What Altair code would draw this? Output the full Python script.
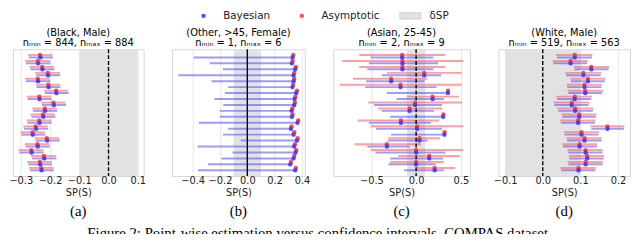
import altair as alt
import pandas as pd

rows = list(range(20))

# ---------------- panel (a) (Black, Male)
a_b_lo = [-0.273, -0.282, -0.267, -0.248, -0.282, -0.246, -0.218, -0.277, -0.228, -0.258,
          -0.264, -0.277, -0.289, -0.298, -0.250, -0.284, -0.305, -0.262, -0.275, -0.269]
a_b_pt = [-0.233, -0.241, -0.226, -0.207, -0.241, -0.205, -0.178, -0.236, -0.187, -0.217,
          -0.223, -0.236, -0.248, -0.259, -0.210, -0.242, -0.263, -0.220, -0.234, -0.229]
a_b_hi = [-0.190, -0.199, -0.185, -0.165, -0.200, -0.164, -0.136, -0.195, -0.145, -0.176,
          -0.182, -0.195, -0.206, -0.216, -0.167, -0.201, -0.222, -0.178, -0.193, -0.187]
a_r_lo = [-0.276, -0.285, -0.270, -0.251, -0.285, -0.249, -0.221, -0.280, -0.231, -0.261,
          -0.267, -0.280, -0.292, -0.301, -0.253, -0.287, -0.308, -0.265, -0.278, -0.272]
a_r_pt = [-0.234, -0.242, -0.227, -0.208, -0.242, -0.206, -0.179, -0.237, -0.188, -0.218,
          -0.224, -0.237, -0.249, -0.260, -0.211, -0.243, -0.264, -0.221, -0.235, -0.230]
a_r_hi = [-0.192, -0.200, -0.186, -0.166, -0.201, -0.165, -0.138, -0.196, -0.147, -0.177,
          -0.183, -0.196, -0.208, -0.218, -0.169, -0.202, -0.223, -0.180, -0.194, -0.188]

# ---------------- panel (b) (Other, >45, Female)
b_b_lo = [-0.392, -0.274, -0.179, -0.505, -0.262, -0.142, -0.164, -0.240, -0.176, -0.201,
          -0.201, -0.355, -0.140, -0.179, -0.049, -0.363, -0.108, -0.189, -0.287, -0.360]
b_b_pt = [0.331, 0.326, 0.350, 0.338, 0.338, 0.330, 0.358, 0.346, 0.343, 0.324,
          0.326, 0.367, 0.319, 0.338, 0.363, 0.343, 0.353, 0.338, 0.314, 0.350]
b_b_hi = [0.336, 0.331, 0.355, 0.343, 0.343, 0.335, 0.363, 0.351, 0.348, 0.329,
          0.331, 0.372, 0.324, 0.343, 0.368, 0.348, 0.358, 0.343, 0.319, 0.355]
b_r_lo = [0.322, 0.318, 0.342, 0.330, 0.330, 0.322, 0.350, 0.338, 0.335, 0.316,
          0.318, 0.359, 0.311, 0.330, 0.355, 0.335, 0.345, 0.330, 0.306, 0.342]
b_r_pt = [0.336, 0.331, 0.355, 0.343, 0.343, 0.335, 0.363, 0.351, 0.348, 0.329,
          0.331, 0.372, 0.324, 0.343, 0.368, 0.348, 0.358, 0.343, 0.319, 0.355]
b_r_hi = [0.350, 0.344, 0.368, 0.356, 0.356, 0.348, 0.376, 0.364, 0.361, 0.342,
          0.344, 0.385, 0.337, 0.356, 0.381, 0.361, 0.371, 0.356, 0.332, 0.368]

# ---------------- panel (c) (Asian, 25-45)
c_b_lo = [-0.508, -0.527, -0.545, -0.382, -0.560, -0.570, -0.327, -0.218, -0.472, -0.385,
          -0.290, -0.527, -0.447, -0.279, -0.316, -0.545, -0.454, -0.290, -0.309, -0.134]
c_b_pt = [-0.156, -0.153, -0.153, 0.091, -0.279, -0.174, 0.355, 0.184, -0.011, -0.073,
          0.302, -0.170, 0.011, 0.316, 0.037, -0.327, 0.000, 0.146, 0.000, 0.207]
c_b_hi = [0.193, 0.244, 0.193, 0.280, 0.095, 0.230, 0.360, 0.310, 0.290, 0.200,
          0.310, 0.164, 0.291, 0.320, 0.128, -0.072, 0.327, 0.302, 0.218, 0.309]
c_r_lo = [-0.636, -0.825, -0.636, -0.327, -0.705, -0.854, 0.343, -0.109, -0.534, -0.425,
          0.292, -0.654, -0.508, 0.306, -0.309, -0.690, -0.508, -0.200, -0.290, 0.000]
c_r_pt = [-0.156, -0.153, -0.153, 0.091, -0.279, -0.174, 0.357, 0.184, -0.011, -0.073,
          0.304, -0.170, 0.011, 0.318, 0.037, -0.327, 0.000, 0.146, 0.000, 0.207]
c_r_hi = [0.327, 0.527, 0.327, 0.509, 0.125, 0.509, 0.372, 0.478, 0.513, 0.291,
          0.318, 0.255, 0.527, 0.331, 0.266, 0.055, 0.527, 0.491, 0.309, 0.436]

# ---------------- panel (d) (White, Male)
d_b_lo = [0.038, 0.028, 0.084, 0.062, 0.075, 0.065, 0.068, 0.038, 0.031, 0.041,
          0.052, 0.048, 0.129, 0.058, 0.065, 0.054, 0.068, 0.071, 0.068, 0.049]
d_b_pt = [0.085, 0.074, 0.129, 0.108, 0.120, 0.111, 0.113, 0.085, 0.077, 0.086,
          0.097, 0.094, 0.172, 0.103, 0.111, 0.098, 0.114, 0.118, 0.114, 0.095]
d_b_hi = [0.131, 0.118, 0.175, 0.154, 0.165, 0.156, 0.158, 0.129, 0.122, 0.133,
          0.141, 0.139, 0.216, 0.148, 0.156, 0.144, 0.159, 0.162, 0.159, 0.140]
d_r_lo = [0.036, 0.026, 0.083, 0.060, 0.073, 0.063, 0.066, 0.036, 0.029, 0.039,
          0.050, 0.046, 0.127, 0.056, 0.063, 0.052, 0.066, 0.069, 0.066, 0.047]
d_r_pt = [0.085, 0.074, 0.129, 0.108, 0.120, 0.111, 0.113, 0.085, 0.077, 0.086,
          0.097, 0.094, 0.172, 0.103, 0.111, 0.098, 0.114, 0.118, 0.114, 0.095]
d_r_hi = [0.132, 0.120, 0.176, 0.155, 0.166, 0.157, 0.160, 0.131, 0.124, 0.134,
          0.143, 0.140, 0.217, 0.150, 0.157, 0.145, 0.160, 0.163, 0.160, 0.141]

titles = [
    ["(Black, Male)", "nₘᵢₙ = 844, nₘₐₓ = 884"],
    ["(Other, >45, Female)", "nₘᵢₙ = 1, nₘₐₓ = 6"],
    ["(Asian, 25-45)", "nₘᵢₙ = 2, nₘₐₓ = 9"],
    ["(White, Male)", "nₘᵢₙ = 519, nₘₐₓ = 563"],
]
sublabels = ["(a)", "(b)", "(c)", "(d)"]
domains = [[-0.327, 0.12], [-0.55, 0.42], [-0.925, 0.60], [-0.118, 0.232]]
tick_values = [[-0.3, -0.2, -0.1, 0.0, 0.1], [-0.4, -0.2, 0.0, 0.2, 0.4],
               [-0.5, 0.0, 0.5], [-0.1, 0.0, 0.1, 0.2]]
delta = 0.1
legend_labels = ["Bayesian", "Asymptotic", "δSP"]
legend_kinds = ["dot", "dot", "box"]
caption = "Figure 2: Point-wise estimation versus confidence intervals, COMPAS dataset."

widths = [133, 135, 139, 134]
SPACING = 29
HEIGHT = 129
BLUE = "#3a3aff"
RED = "#ff3a3a"
BLUE_LINE = "#5a5aff"
RED_LINE = "#ff6060"
BAND = "#e2e2e2"
FONT = "DejaVu Sans"
SERIF = "Liberation Serif"

y_scale = alt.Scale(domain=[-1.17, 20.17], reverse=True, nice=False, zero=False)


def panel(i, data, dashed):
    b_lo, b_pt, b_hi, r_lo, r_pt, r_hi = data
    df = pd.DataFrame({"row": rows, "b_lo": b_lo, "b_pt": b_pt, "b_hi": b_hi,
                       "r_lo": r_lo, "r_pt": r_pt, "r_hi": r_hi})
    xs = alt.Scale(domain=domains[i], nice=False, zero=False)
    axis = alt.Axis(values=tick_values[i], format=".1f",
                    labelExpr="replace(datum.label, '-', '\u2212')",
                    ticks=False, domain=False, grid=True, gridColor="#e6e6e6",
                    labelFont=FONT, labelFontSize=10, labelColor="#222", labelPadding=0,
                    labelFlush=False, labelOverlap=False,
                    title="SP(S)", titleFont=FONT, titleFontSize=10,
                    titleFontWeight="normal", titleColor="#222", titlePadding=2)
    yax = alt.Y("row:Q", scale=y_scale, axis=None)
    base = alt.Chart(df)
    band = alt.Chart(pd.DataFrame({"lo": [-delta], "hi": [delta]})).mark_rect(
        color=BAND).encode(x=alt.X("lo:Q", scale=xs, axis=axis), x2="hi:Q")
    zero_kw = dict(color="black", strokeWidth=1.4)
    if dashed:
        zero_kw["strokeDash"] = [4, 2]
    zero = alt.Chart(pd.DataFrame({"z": [0.0]})).mark_rule(**zero_kw).encode(
        x=alt.X("z:Q", scale=xs, axis=axis))
    red_lines = base.mark_rule(color=RED_LINE, strokeWidth=2, opacity=0.6, yOffset=-1.2).encode(
        x=alt.X("r_lo:Q", scale=xs, axis=axis), x2="r_hi:Q", y=yax)
    blue_lines = base.mark_rule(color=BLUE_LINE, strokeWidth=2, opacity=0.6, yOffset=1.2).encode(
        x=alt.X("b_lo:Q", scale=xs, axis=axis), x2="b_hi:Q", y=yax)
    red_pts = base.mark_point(filled=True, size=20, opacity=0.9, yOffset=-1.2, color=RED).encode(
        x=alt.X("r_pt:Q", scale=xs, axis=axis), y=yax)
    blue_pts = base.mark_point(filled=True, size=20, opacity=0.9, yOffset=1.2, color=BLUE).encode(
        x=alt.X("b_pt:Q", scale=xs, axis=axis), y=yax)
    sub = alt.Chart(pd.DataFrame({"t": [sublabels[i]]})).mark_text(
        font=SERIF, fontSize=15, color="black", baseline="middle").encode(
        x=alt.value(widths[i] / 2), y=alt.value(HEIGHT + 35.5), text="t:N")
    return alt.layer(band, red_lines, blue_lines, zero, red_pts, blue_pts, sub).properties(
        width=widths[i], height=HEIGHT,
        title=alt.TitleParams(text=titles[i], font=FONT, fontSize=10, fontWeight="normal",
                              color="black", lineHeight=10, offset=1, anchor="middle"),
        view=alt.ViewBackground(stroke="#d6d6d6", strokeWidth=1))


panels = [
    panel(0, (a_b_lo, a_b_pt, a_b_hi, a_r_lo, a_r_pt, a_r_hi), True),
    panel(1, (b_b_lo, b_b_pt, b_b_hi, b_r_lo, b_r_pt, b_r_hi), False),
    panel(2, (c_b_lo, c_b_pt, c_b_hi, c_r_lo, c_r_pt, c_r_hi), True),
    panel(3, (d_b_lo, d_b_pt, d_b_hi, d_r_lo, d_r_pt, d_r_hi), True),
]

row = alt.hconcat(*panels, spacing=SPACING, bounds="flush").resolve_scale(x="independent")

# ---------------- legend row (entries on a point scale)
leg_df = pd.DataFrame({"label": legend_labels, "kind": legend_kinds})
leg_x = alt.X("label:N", scale=alt.Scale(type="point", domain=legend_labels,
                                         range=[192, 392], padding=0),
              axis=None)
leg_color = alt.Color("label:N", scale=alt.Scale(domain=legend_labels,
                                                 range=[BLUE, RED, BAND]), legend=None)
leg_base = alt.Chart(leg_df)
leg_dots = leg_base.transform_filter(alt.datum.kind == "dot").mark_point(
    filled=True, size=20, opacity=0.9, xOffset=2).encode(
    x=leg_x, y=alt.value(6), color=leg_color)
leg_box = leg_base.transform_filter(alt.datum.kind == "box").mark_point(
    shape="M-1,-0.3H1V0.3H-1Z", size=466, filled=True, fill=BAND, stroke="#cccccc",
    strokeWidth=0.8, opacity=1, xOffset=12.5).encode(x=leg_x, y=alt.value(6))
leg_text_dot = leg_base.transform_filter(alt.datum.kind == "dot").mark_text(
    align="left", baseline="middle", dx=22, font=FONT, fontSize=10.5, color="#222").encode(
    x=leg_x, y=alt.value(6), text="label:N")
leg_text_box = leg_base.transform_filter(alt.datum.kind == "box").mark_text(
    align="left", baseline="middle", dx=32, font=FONT, fontSize=10.5, color="#222").encode(
    x=leg_x, y=alt.value(6), text="label:N")
legend_row = alt.layer(leg_dots, leg_box, leg_text_dot, leg_text_box).properties(
    width=500, height=12, view=alt.ViewBackground(stroke=None))

cap = alt.Chart(pd.DataFrame({"t": [caption]})).mark_text(
    clip=True, font=SERIF, fontSize=15, color="black", baseline="top", align="center").encode(
    x=alt.value(312), y=alt.value(2), text="t:N").properties(
    width=630, height=10, view=alt.ViewBackground(stroke=None))

chart = alt.vconcat(legend_row, row, cap, spacing=5).properties(
    padding={"left": 0, "top": 0, "right": 0, "bottom": 0}
).configure(background="white")

chart.save("out.html", embed_options={"renderer": "svg", "actions": False})
